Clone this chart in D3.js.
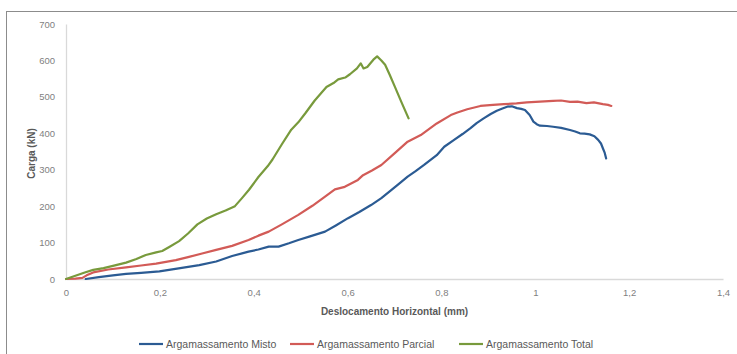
<!DOCTYPE html>
<html>
<head>
<meta charset="utf-8">
<script src="https://cdn.jsdelivr.net/npm/d3@7"></script>
<style>
  html, body { margin: 0; padding: 0; background: #fff; }
  svg { display: block; font-family: "Liberation Sans", Arial, sans-serif; }
</style>
</head>
<body>
<svg id="chart" width="737" height="354"></svg>
<script>
// Load–displacement curves (kN vs mm)
const mistoX = [0.042, 0.07, 0.10, 0.128, 0.16, 0.199, 0.24, 0.284, 0.32, 0.354, 0.389, 0.41, 0.432, 0.453, 0.475, 0.495, 0.52, 0.552, 0.575, 0.601, 0.625, 0.65, 0.672, 0.693, 0.71, 0.728, 0.745, 0.763, 0.79, 0.806, 0.827, 0.845, 0.862, 0.875, 0.89, 0.905, 0.918, 0.93, 0.94, 0.95, 0.961, 0.97, 0.978, 0.988, 0.996, 1.003, 1.01, 1.025, 1.038, 1.055, 1.074, 1.085, 1.095, 1.105, 1.116, 1.126, 1.134, 1.14, 1.144, 1.148, 1.151];
const mistoY = [0, 5, 10, 14, 17, 21, 29, 38, 48, 63, 75, 81, 89, 89, 98, 107, 117, 130, 147, 167, 184, 203, 222, 244, 262, 281, 296, 313, 340, 363, 382, 398, 414, 428, 441, 453, 462, 468, 473, 474, 469, 467, 464, 450, 432, 425, 421, 420, 418, 415, 409, 405, 400, 399, 397, 392, 382, 372, 359, 346, 331];

const parcialX = [0, 0.02, 0.035, 0.044, 0.058, 0.09, 0.128, 0.16, 0.192, 0.234, 0.26, 0.29, 0.32, 0.354, 0.389, 0.41, 0.432, 0.46, 0.495, 0.525, 0.552, 0.573, 0.594, 0.622, 0.633, 0.652, 0.672, 0.70, 0.728, 0.756, 0.79, 0.82, 0.834, 0.855, 0.883, 0.91, 0.933, 0.96, 0.982, 1.01, 1.038, 1.055, 1.074, 1.09, 1.109, 1.125, 1.144, 1.155, 1.162];
const parcialY = [0, 1, 3, 10, 18, 26, 32, 37, 42, 52, 60, 70, 80, 91, 107, 119, 130, 150, 176, 201, 226, 246, 253, 272, 285, 298, 313, 345, 377, 395, 427, 450, 457, 466, 475, 478, 480, 482, 485, 487, 489, 490, 486, 487, 483, 485, 480, 478, 475];

const totalX = [0, 0.02, 0.04, 0.058, 0.08, 0.10, 0.128, 0.15, 0.17, 0.192, 0.205, 0.22, 0.241, 0.26, 0.28, 0.30, 0.32, 0.34, 0.36, 0.375, 0.39, 0.41, 0.43, 0.44, 0.46, 0.48, 0.495, 0.51, 0.53, 0.555, 0.57, 0.58, 0.595, 0.605, 0.62, 0.628, 0.634, 0.642, 0.655, 0.663, 0.672, 0.68, 0.69, 0.70, 0.715, 0.73];
const totalY = [0, 9, 18, 25, 30, 36, 45, 55, 66, 73, 77, 88, 104, 125, 150, 166, 178, 188, 200, 222, 245, 280, 310, 328, 370, 410, 430, 455, 490, 527, 538, 548, 553, 562, 578, 592, 578, 582, 602, 611, 600, 588, 560, 530, 485, 441];

const seriesNames = ["Argamassamento Misto", "Argamassamento Parcial", "Argamassamento Total"];
const seriesColors = ["#2b5b93", "#d25b57", "#789a3c"];
const xTicks = [0, 0.2, 0.4, 0.6, 0.8, 1, 1.2, 1.4];
const yTicks = [0, 100, 200, 300, 400, 500, 600, 700];
const xTitle = "Deslocamento Horizontal (mm)";
const yTitle = "Carga (kN)";

const series = [
  { name: seriesNames[0], color: seriesColors[0], pts: d3.zip(mistoX, mistoY) },
  { name: seriesNames[1], color: seriesColors[1], pts: d3.zip(parcialX, parcialY) },
  { name: seriesNames[2], color: seriesColors[2], pts: d3.zip(totalX, totalY) }
];

const svg = d3.select("#chart");

// chart frame
svg.append("rect")
  .attr("x", 6.5).attr("y", 11.5)
  .attr("width", 740).attr("height", 350)
  .attr("fill", "#fff").attr("stroke", "#8c8c8c").attr("stroke-width", 1);

const x = d3.scaleLinear().domain([0, 1.4]).range([66, 723]);
const y = d3.scaleLinear().domain([0, 700]).range([279, 24]);

// y axis
const yAxis = svg.append("g")
  .attr("transform", `translate(${x(0)},0)`)
  .call(d3.axisLeft(y).tickValues(yTicks).tickSize(0).tickPadding(11));
yAxis.select(".domain").attr("stroke", "#d9d9d9").attr("stroke-width", 1.3);
yAxis.selectAll("text").attr("fill", "#7f7f7f").style("font-size", "9.5px");

// x axis
const xAxis = svg.append("g")
  .attr("transform", `translate(0,${y(0)})`)
  .call(d3.axisBottom(x).tickValues(xTicks).tickSize(0).tickPadding(10)
    .tickFormat(d => String(d).replace(".", ",")));
xAxis.select(".domain").attr("stroke", "#d9d9d9").attr("stroke-width", 1.3);
xAxis.selectAll("text").attr("fill", "#7f7f7f").style("font-size", "9.5px");

// axis titles
svg.append("text")
  .attr("x", (x(0) + x(1.4)) / 2).attr("y", 315)
  .attr("text-anchor", "middle")
  .attr("fill", "#595959").attr("font-weight", "bold").style("font-size", "10px")
  .text(xTitle);

svg.append("text")
  .attr("transform", `translate(35,${(y(0) + y(700)) / 2 + 2}) rotate(-90)`)
  .attr("text-anchor", "middle")
  .attr("fill", "#595959").attr("font-weight", "bold").style("font-size", "10px")
  .text(yTitle);

// curves
const line = d3.line().x(d => x(d[0])).y(d => y(d[1]));
svg.append("g").selectAll("path")
  .data(series)
  .join("path")
  .attr("d", d => line(d.pts))
  .attr("fill", "none")
  .attr("stroke", d => d.color)
  .attr("stroke-width", 2.2)
  .attr("stroke-linejoin", "round")
  .attr("stroke-linecap", "round");

// legend
const legendX = [139, 290, 459];
const legend = svg.append("g").selectAll("g")
  .data(series)
  .join("g")
  .attr("transform", (d, i) => `translate(${legendX[i]},344)`);
legend.append("line")
  .attr("x1", 0).attr("x2", 24).attr("y1", 0).attr("y2", 0)
  .attr("stroke", d => d.color).attr("stroke-width", 2.2);
legend.append("text")
  .attr("x", 27).attr("y", 0).attr("dy", "0.35em")
  .attr("fill", "#595959").style("font-size", "10.5px")
  .text(d => d.name);
</script>
</body>
</html>
